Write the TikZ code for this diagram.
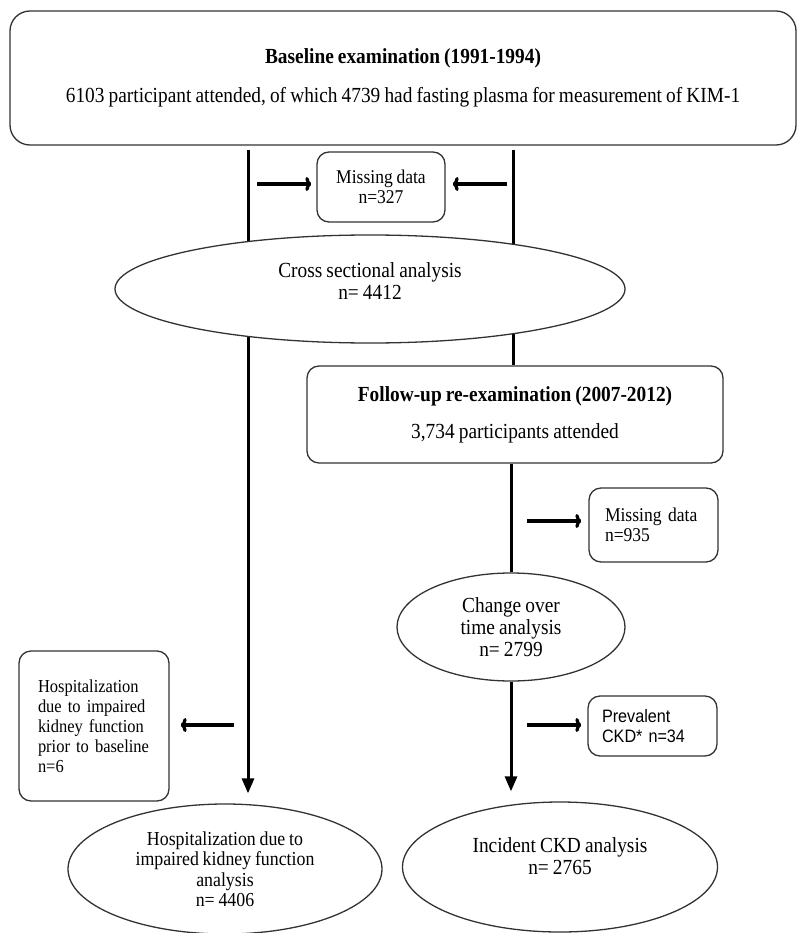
\documentclass[tikz,border=0pt]{standalone}
\usepackage{fontspec}
\setmainfont{Liberation Serif}[FakeStretch=0.9, WordSpace=0.85]
\newfontfamily\arialfont{Liberation Sans}[FakeStretch=0.9, WordSpace=0.85]
\usepackage{tikz}
\usetikzlibrary{shapes, arrows.meta, positioning, calc}
\pgfdeclarelayer{background}
\pgfsetlayers{background,main}

\tikzset{
  box/.style={draw=black!80, line width=1.3pt, rounded corners=12pt, fill=white, align=center, inner sep=0pt},
  oval/.style={ellipse, draw=black!80, line width=1.3pt, fill=white, align=center, inner sep=0pt},
  spine/.style={line width=3pt, -{Triangle[length=15pt,width=12pt]}},
  side/.style={line width=3.2pt, -{To[length=6pt,width=14pt]}},
  big/.style={font=\fontsize{21.5}{22}\selectfont},
  small/.style={font=\fontsize{19.5}{20}\selectfont},
}

\begin{document}
\begin{tikzpicture}[x=1pt,y=-1pt]
  \useasboundingbox (0,0) rectangle (797,933);

  % Baseline box
  \node[box, rounded corners=20pt, minimum width=786pt, minimum height=134pt, big] (base) at (403,78)
    {\textbf{Baseline examination (1991-1994)}\\[17pt]
     6103 participant attended, of which 4739 had fasting plasma for measurement of KIM-1};

  % Missing data (baseline)
  \node[box, minimum width=128pt, minimum height=70pt, small] (miss1) at (381,187) {Missing data\\n=327};

  % Cross sectional analysis
  \node[oval, minimum width=510pt, minimum height=108pt, big] (cross) at (370,289)
    {Cross sectional analysis\\n= 4412\\[-6pt]\mbox{}};

  % Follow-up box
  \node[box, minimum width=416pt, minimum height=97pt, big] (follow) at (515,414.5)
    {\textbf{Follow-up re-examination (2007-2012)}\\[15pt] 3,734 participants attended};

  % Missing data (follow-up)
  \node[box, minimum width=129pt, minimum height=74pt, text width=97pt, align=left, small] (miss2) at (653.5,525)
    {Missing data\\n=935};

  % Change over time
  \node[oval, minimum width=228pt, minimum height=108pt, big] (change) at (511,627)
    {Change over\\time analysis\\n= 2799};

  % Exclusions
  \node[box, minimum width=129pt, minimum height=60pt, text width=101pt, align=left,
        font=\arialfont\fontsize{18}{20}\selectfont] (prev) at (652.5,726) {Prevalent\\CKD* n=34};
  \node[box, minimum width=150pt, minimum height=150pt, text width=112pt, align=left,
        font=\fontsize{18.3}{20}\selectfont] (prior) at (94,726)
    {Hospitalization\\due to impaired\\kidney function\\prior to baseline\\n=6};

  % Outcome analyses
  \node[oval, minimum width=314pt, minimum height=130pt, font=\fontsize{19.8}{20.5}\selectfont] (hosp) at (225,869)
    {Hospitalization due to\\impaired kidney function\\analysis\\n= 4406};
  \node[oval, minimum width=315pt, minimum height=130pt, big] (inc) at (560,867)
    {Incident CKD analysis\\n= 2765\\ \mbox{}};

  % Flow lines
  \coordinate (ltop) at (248,150);
  \coordinate (rtop) at (513,150);
  \begin{pgfonlayer}{background}
    \draw[spine, shorten >=10pt] (ltop) -- (ltop |- hosp.north);
    \draw[line width=3pt] (rtop) -- (rtop |- follow.north);
    \draw[line width=3pt] (change.north |- follow.south) -- (change.north);
    \draw[spine, shorten >=10pt] (change.south) -- (change.south |- inc.north);
  \end{pgfonlayer}

  % Side arrows
  \coordinate (a1) at (257,184);
  \coordinate (a2) at (507,184);
  \coordinate (a3) at (527,521);
  \coordinate (a4) at (527,725);
  \coordinate (a5) at (234,725);
  \draw[side, shorten >=5pt] (a1) -- (a1 -| miss1.west);
  \draw[side, shorten >=7pt] (a2) -- (a2 -| miss1.east);
  \draw[side, shorten >=7pt] (a3) -- (a3 -| miss2.west);
  \draw[side, shorten >=6pt] (a4) -- (a4 -| prev.west);
  \draw[side, shorten >=11pt] (a5) -- (a5 -| prior.east);
\end{tikzpicture}
\end{document}
